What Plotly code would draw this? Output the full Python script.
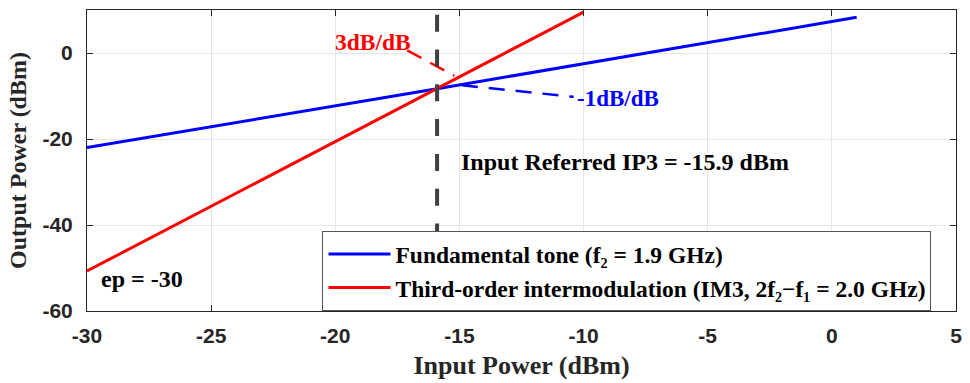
import plotly.graph_objects as go

# Two-tone sweep: input power vs. output power
input_fund = [-30, -15.9, 1]
output_fund = [-22.0, -8.3, 8.3]

input_im3 = [-30, -15.9, -10]
output_im3 = [-50.7, -8.3, 9.5]

ip3_input = -15.9

# Slope leader lines (data coordinates)
lead3_x = [-17.1, -15.2]
lead3_y = [0.6, -5.3]
lead1_x = [-14.9, -10.4]
lead1_y = [-7.5, -10.2]

x_ticks = [-30, -25, -20, -15, -10, -5, 0, 5]
y_ticks = [-60, -40, -20, 0]

serif = "Liberation Serif, Times New Roman, serif"
sans = "Liberation Sans, Arial, sans-serif"

fig = go.Figure()

fig.add_trace(go.Scatter(
    x=input_fund, y=output_fund, mode="lines",
    line=dict(color="#0000ff", width=3),
    name="<b>Fundamental tone (f\u2082 = 1.9 GHz)</b>",
))
fig.add_trace(go.Scatter(
    x=input_im3, y=output_im3, mode="lines",
    line=dict(color="#ff0000", width=3),
    name="<b>Third-order intermodulation (IM3, 2f\u2082\u2212f\u2081 = 2.0 GHz)</b>",
))
fig.add_trace(go.Scatter(
    x=lead3_x, y=lead3_y, mode="lines", showlegend=False,
    line=dict(color="#ff0000", width=2.5, dash="16px,10px"),
))
fig.add_trace(go.Scatter(
    x=lead1_x, y=lead1_y, mode="lines", showlegend=False,
    line=dict(color="#0000ff", width=2.5, dash="16px,11px"),
))

# IP3 marker line, drawn top to bottom
fig.add_shape(type="line", xref="x", yref="paper", x0=ip3_input, x1=ip3_input, y0=1, y1=0,
              line=dict(color="#404040", width=4, dash="0px,4.7px,17px,13.1px"), layer="above")

fig.add_annotation(x=-18.5, y=2.6, text="<b>3dB/dB</b>", showarrow=False,
                   font=dict(family=serif, size=23.5, color="#ff0000"))
fig.add_annotation(x=-8.6, y=-10.6, text="<b>-1dB/dB</b>", showarrow=False,
                   font=dict(family=serif, size=23, color="#0000ff"))
fig.add_annotation(x=-15.0, y=-25.4, text="<b>Input Referred IP3 = -15.9 dBm</b>",
                   showarrow=False, xanchor="left",
                   font=dict(family=serif, size=24, color="#000000"))
fig.add_annotation(x=-29.5, y=-52.6, text="<b>ep = -30</b>", showarrow=False,
                   xanchor="left", font=dict(family=serif, size=24, color="#000000"))

axis_common = dict(
    showline=True, linecolor="#262626", linewidth=1, mirror="allticks",
    ticks="inside", ticklen=6, tickcolor="#262626",
    showgrid=True, gridcolor="#e6e6e6", gridwidth=1, zeroline=False,
    tickfont=dict(family=sans, size=21, color="#262626"),
)

fig.update_xaxes(
    range=[-30, 5], tickvals=x_ticks, ticktext=[f"<b>{v}</b>" for v in x_ticks],
    ticklabelstandoff=6,
    title=dict(text="<b>Input Power (dBm)</b>", font=dict(family=serif, size=26, color="#262626"),
               standoff=9),
    **axis_common,
)
fig.update_yaxes(
    range=[-60, 10], tickvals=y_ticks, ticktext=[f"<b>{v}</b>" for v in y_ticks],
    ticklabelstandoff=9,
    title=dict(text="<b>Output Power (dBm)</b>", font=dict(family=serif, size=24, color="#262626"),
               standoff=9),
    **axis_common,
)

fig.update_layout(
    width=970, height=383,
    margin=dict(l=87, r=8, t=10, b=72),
    plot_bgcolor="white", paper_bgcolor="white",
    legend=dict(
        x=0.271, y=0.265, xanchor="left", yanchor="top",
        bgcolor="white", bordercolor="#555555", borderwidth=1,
        font=dict(family=serif, size=23.5, color="#000000"),
        itemwidth=62, tracegroupgap=0,
    ),
)

fig.write_html("out.html")
